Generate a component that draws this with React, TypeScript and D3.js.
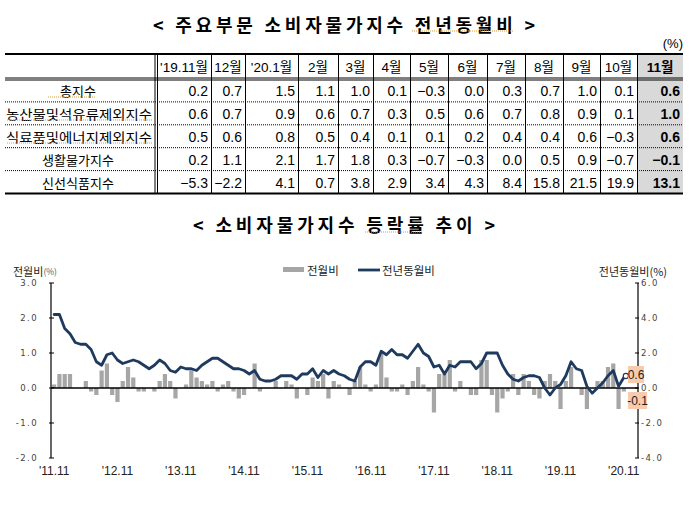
import React from 'react';
import * as d3 from 'd3';

const W = 691;
const H = 513;

// ---- table data (전년동월비, %) ----
const tableCols = ["'19.11월", '12월', "'20.1월", '2월', '3월', '4월', '5월', '6월', '7월', '8월', '9월', '10월', '11월'];
const tableRowNames = ['총지수', '농산물및석유류제외지수', '식료품및에너지제외지수', '생활물가지수', '신선식품지수'];
const totalIndex = [0.2, 0.7, 1.5, 1.1, 1.0, 0.1, -0.3, 0.0, 0.3, 0.7, 1.0, 0.1, 0.6];
const exAgriOil = [0.6, 0.7, 0.9, 0.6, 0.7, 0.3, 0.5, 0.6, 0.7, 0.8, 0.9, 0.1, 1.0];
const exFoodEnergy = [0.5, 0.6, 0.8, 0.5, 0.4, 0.1, 0.1, 0.2, 0.4, 0.4, 0.6, -0.3, 0.6];
const livingIndex = [0.2, 1.1, 2.1, 1.7, 1.8, 0.3, -0.7, -0.3, 0.0, 0.5, 0.9, -0.7, -0.1];
const freshFood = [-5.3, -2.2, 4.1, 0.7, 3.8, 2.9, 3.4, 4.3, 8.4, 15.8, 21.5, 19.9, 13.1];
const tableValues = [totalIndex, exAgriOil, exFoodEnergy, livingIndex, freshFood];

// ---- chart data, 2011.11 ~ 2020.11 ----
const months = d3.timeMonth.range(new Date(2011, 10, 1), new Date(2020, 11, 1));
// 전월비 (left axis)
const momChange = [
  0.1, 0.4, 0.4, 0.4, 0.0, 0.0, 0.2, -0.1, -0.2, 0.5, 0.7, -0.2,
  -0.4, 0.2, 0.6, 0.3, -0.1, -0.1, 0.0, -0.1, 0.2, 0.4, 0.2, -0.3,
  0.0, 0.1, 0.5, 0.3, 0.2, 0.1, 0.2, -0.1, 0.1, 0.2, -0.1, -0.3,
  -0.2, 0.0, 0.7, -0.1, 0.0, 0.0, 0.2, 0.0, 0.2, 0.1, -0.3, 0.0,
  -0.2, 0.3, 0.2, 0.4, -0.3, 0.2, 0.1, 0.0, -0.2, 0.2, 0.6, 0.1,
  -0.1, 0.1, 1.0, 0.3, -0.1, -0.1, 0.1, -0.2, 0.2, 0.6, 0.1, -0.1,
  -0.7, 0.4, 0.4, 0.8, -0.1, 0.2, 0.0, -0.2, -0.2, 0.8, 0.8, -0.2,
  -0.7, -0.3, -0.1, 0.4, -0.2, 0.4, 0.2, -0.2, -0.3, 0.2, 0.4, 0.2,
  -0.6, 0.2, 0.6, 0.0, -0.2, -0.6, 0.0, 0.2, 0.2, 0.6, 0.7, -0.6,
  -0.1,
];
// 전년동월비 (right axis)
const yoyChange = [
  4.2, 4.2, 3.4, 3.1, 2.6, 2.5, 2.5, 2.2, 1.5, 1.3, 1.9, 2.0,
  1.6, 1.4, 1.5, 1.6, 1.5, 1.3, 1.1, 1.3, 1.6, 1.4, 1.0, 0.9,
  1.2, 1.1, 1.1, 1.0, 1.3, 1.5, 1.7, 1.7, 1.5, 1.3, 1.1, 1.1,
  1.0, 0.8, 1.0, 0.5, 0.4, 0.4, 0.5, 0.7, 0.7, 0.7, 0.5, 0.8,
  0.8, 1.1, 0.6, 1.0, 0.8, 1.0, 0.8, 0.7, 0.5, 0.4, 1.2, 1.5,
  1.5, 1.3, 2.1, 1.9, 2.2, 1.9, 1.9, 1.7, 2.1, 2.5, 2.0, 1.8,
  1.2, 1.3, 0.8, 1.3, 1.2, 1.5, 1.5, 1.5, 1.1, 1.4, 2.0, 2.0,
  2.0, 1.3, 0.8, 0.5, 0.4, 0.6, 0.7, 0.7, 0.6, 0.0, -0.4, 0.0,
  0.2, 0.7, 1.5, 1.1, 1.0, 0.1, -0.3, 0.0, 0.3, 0.7, 1.0, 0.1,
  0.6,
];
const xTickLabels = ["'11.11", "'12.11", "'13.11", "'14.11", "'15.11", "'16.11", "'17.11", "'18.11", "'19.11", "'20.11"];
const leftTicks = [3, 2, 1, 0, -1, -2];
const rightTicks = [6, 4, 2, 0, -2, -4];

const KR = "'Noto Sans CJK KR', sans-serif";
const NUM = "'Liberation Sans Narrow', 'Liberation Sans', Arial, 'Noto Sans CJK KR', sans-serif";
const NAVY = '#1f3a5f';
const BAR = '#a6a6a6';

const fmt = (v: number) => (v < 0 ? `\u2212${Math.abs(v).toFixed(1)}` : v.toFixed(1));

// table layout
const colEdges = [157, 211, 245, 298, 338, 373, 410, 448, 487, 525, 563, 600, 637, 683];
const tableTop = 54;
const headerBottom = 79;
const rowH = 22.9;

const Squiggle = ({ x1, x2, y }: { x1: number; x2: number; y: number }) => (
  <line x1={x1} x2={x2} y1={y} y2={y} stroke="#d9a040" strokeWidth={1} strokeDasharray="1 1" />
);

export default function App() {
  const plotLeft = 51;
  const plotRight = 638;
  const plotTop = 283;
  const plotBottom = 458;

  const x = d3.scaleBand<number>().domain(d3.range(months.length)).range([51, 627]).padding(0.2);
  const xc = (i: number) => (x(i) as number) + x.bandwidth() / 2;
  const yL = d3.scaleLinear().domain([-2, 3]).range([plotBottom, plotTop]);
  const yR = d3.scaleLinear().domain([-4, 6]).range([plotBottom, plotTop]);

  const line = d3
    .line<number>()
    .x((_, i) => xc(i))
    .y((d) => yR(d))
    .curve(d3.curveLinear);

  const last = yoyChange.length - 1;
  const lastMom = momChange[momChange.length - 1];

  return (
    <svg width={W} height={H} style={{ position: 'absolute', left: 0, top: 0, background: '#fff' }}>
      {/* title 1 */}
      <text x={153} y={24} dominantBaseline="central" fontFamily={KR} fontWeight={700} fontSize={18}
        textLength={382} lengthAdjust="spacing">{'< 주요부문 소비자물가지수 전년동월비 >'}</text>
      <Squiggle x1={412} x2={513} y={31} />
      <text x={683} y={43} textAnchor="end" dominantBaseline="central" fontFamily={NUM} fontSize={13}>(%)</text>

      {/* table */}
      <rect x={colEdges[12] + 0.5} y={tableTop + 1} width={colEdges[13] - colEdges[12] - 0.5} height={5 * rowH + headerBottom - tableTop - 1} fill="#d9d9d9" />
      <line x1={5} x2={683} y1={tableTop} y2={tableTop} stroke="#000" strokeWidth={2} />
      <line x1={5} x2={683} y1={headerBottom - 1} y2={headerBottom - 1} stroke="#000" strokeWidth={1} />
      <line x1={5} x2={683} y1={headerBottom + 1} y2={headerBottom + 1} stroke="#000" strokeWidth={1} />
      {tableRowNames.map((_, r) =>
        r < tableRowNames.length - 1 ? (
          <line key={r} x1={5} x2={683} y1={headerBottom + (r + 1) * rowH} y2={headerBottom + (r + 1) * rowH}
            stroke="#000" strokeWidth={1} strokeDasharray="1 1" />
        ) : null
      )}
      <line x1={5} x2={683} y1={headerBottom + 5 * rowH} y2={headerBottom + 5 * rowH} stroke="#000" strokeWidth={2} />
      <line x1={155} x2={155} y1={tableTop} y2={headerBottom + 5 * rowH} stroke="#000" strokeWidth={1} />
      {colEdges.slice(0, -1).map((e, c) => (
        <line key={c} x1={e + 0.5} x2={e + 0.5} y1={tableTop} y2={headerBottom + 5 * rowH} stroke="#000" strokeWidth={1} />
      ))}
      {tableCols.map((h, c) => (
        <text key={h} x={(colEdges[c] + colEdges[c + 1]) / 2} y={(tableTop + headerBottom) / 2 + 0.5}
          textAnchor="middle" dominantBaseline="central" fontFamily={NUM} fontSize={13.5}
          fontWeight={c === tableCols.length - 1 ? 700 : 400}>{h}</text>
      ))}
      {tableRowNames.map((name, r) => {
        const cy = headerBottom + r * rowH + rowH / 2 + 0.5;
        const long = name.length > 8;
        return (
          <g key={name}>
            <text x={long ? 6 : 78} y={cy} textAnchor={long ? 'start' : 'middle'} dominantBaseline="central"
              fontFamily={KR} fontSize={13} textLength={long ? 146 : undefined} lengthAdjust="spacingAndGlyphs">{name}</text>
            {tableValues[r].map((v, c) => (
              <text key={c} x={colEdges[c + 1] - 3} y={cy} textAnchor="end" dominantBaseline="central"
                fontFamily={NUM} fontSize={14} fontWeight={c === tableCols.length - 1 ? 700 : 400}>{fmt(v)}</text>
            ))}
          </g>
        );
      })}
      <Squiggle x1={48} x2={95} y={97} />
      <Squiggle x1={7} x2={153} y={120} />
      <Squiggle x1={7} x2={153} y={143} />

      {/* title 2 */}
      <text x={193} y={223.5} dominantBaseline="central" fontFamily={KR} fontWeight={700} fontSize={18}
        textLength={302} lengthAdjust="spacing">{'< 소비자물가지수 등락률 추이 >'}</text>
      <Squiggle x1={365} x2={422} y={232} />

      {/* legend */}
      <rect x={283} y={267} width={21} height={5} fill={BAR} />
      <text x={307} y={270} dominantBaseline="central" fontFamily={KR} fontSize={11.5} fill="#222">전월비</text>
      <line x1={358} x2={380} y1={270} y2={270} stroke={NAVY} strokeWidth={2.8} />
      <text x={382} y={270} dominantBaseline="central" fontFamily={KR} fontSize={11.5} fill="#222">전년동월비</text>

      {/* axis titles */}
      <text x={13} y={271} dominantBaseline="central" fontFamily={KR} fontSize={11} fill="#222">
        전월비<tspan fontSize={8.5} fill="#555">(%)</tspan>
      </text>
      <text x={667} y={271} textAnchor="end" dominantBaseline="central" fontFamily={KR} fontSize={11} fill="#222">전년동월비(%)</text>

      {/* bars */}
      {momChange.map((v, i) => (
        <rect key={i} x={x(i)} width={x.bandwidth()} y={Math.min(yL(v), yL(0))} height={Math.abs(yL(v) - yL(0))} fill={BAR} />
      ))}

      {/* axes */}
      <line x1={plotLeft} x2={plotLeft} y1={plotTop} y2={plotBottom} stroke="#000" strokeWidth={1.2} />
      {leftTicks.map((t) => (
        <g key={t}>
          <line x1={plotLeft - 2} x2={plotLeft + 3} y1={yL(t)} y2={yL(t)} stroke="#000" strokeWidth={1} />
          <text x={38} y={yL(t)} textAnchor="end" dominantBaseline="central" fontFamily="'DejaVu Sans', sans-serif"
            fontSize={8.5} letterSpacing={1.4} fill="#444">{t.toFixed(1)}</text>
        </g>
      ))}
      <line x1={plotRight} x2={plotRight} y1={plotTop} y2={plotBottom} stroke="#000" strokeWidth={1.2} />
      {rightTicks.map((t) => (
        <g key={t}>
          <line x1={plotRight - 3} x2={plotRight + 1} y1={yR(t)} y2={yR(t)} stroke="#000" strokeWidth={1} />
          <text x={641} y={yR(t)} dominantBaseline="central" fontFamily="'DejaVu Sans', sans-serif"
            fontSize={8.5} letterSpacing={1.4} fill="#444">{t.toFixed(1)}</text>
        </g>
      ))}
      <line x1={plotLeft} x2={plotRight} y1={yL(0)} y2={yL(0)} stroke="#000" strokeWidth={1.3} />
      {xTickLabels.map((lab, k) => (
        <text key={lab} x={xc(k * 12)} y={471} textAnchor="middle" dominantBaseline="central"
          fontFamily="'Liberation Sans', Arial, sans-serif" fontSize={12} fill="#222">{lab}</text>
      ))}

      {/* yoy line */}
      <path d={line(yoyChange) ?? ''} fill="none" stroke={NAVY} strokeWidth={2.8} strokeLinejoin="round" strokeLinecap="round" />
      <circle cx={xc(last) + 2} cy={yR(yoyChange[last]) - 1.5} r={2.6} fill="#fff" stroke={NAVY} strokeWidth={1.1} />

      {/* value labels */}
      <rect x={628} y={366} width={16} height={17} fill="#f8cbad" />
      <text x={636} y={375} textAnchor="middle" dominantBaseline="central" fontFamily="'Liberation Sans', Arial, sans-serif"
        fontSize={12} fill="#222">{yoyChange[last].toFixed(1)}</text>
      <rect x={628} y={392} width={19} height={17} fill="#f8cbad" />
      <text x={637.5} y={401} textAnchor="middle" dominantBaseline="central" fontFamily="'Liberation Sans', Arial, sans-serif"
        fontSize={12} fill="#222">{lastMom.toFixed(1)}</text>
    </svg>
  );
}
